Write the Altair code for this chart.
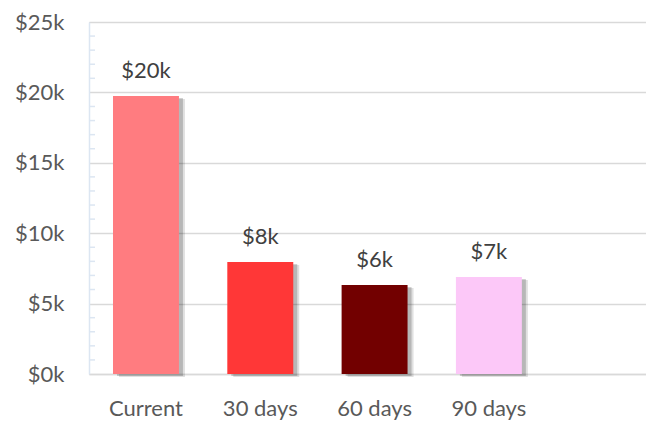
import altair as alt
import pandas as pd

categories = ["Current", "30 days", "60 days", "90 days"]
values = [19740, 7950, 6320, 6890]
value_labels = ["$20k", "$8k", "$6k", "$7k"]
colors = ["#FF7C80", "#FF3737", "#720000", "#FCC8F8"]
y_ticks = [0, 5000, 10000, 15000, 20000, 25000]
minor_ticks = [v for v in range(1000, 25000, 1000) if v % 5000 != 0]

FONT = "Lato"

df = pd.DataFrame({"cat": categories, "value": values, "label": value_labels, "color": colors})
minor_df = pd.DataFrame({"v": minor_ticks})

x_scale = alt.Scale(domain=categories, paddingInner=0.423, paddingOuter=0.648, align=0.162)
y_scale = alt.Scale(domain=[0, 25000], nice=False, zero=True)

x_axis = alt.Axis(title=None, labelAngle=0, ticks=False, domain=True,
                  domainColor="#D9D9D9", domainWidth=1.5, grid=False,
                  labelFont=FONT, labelFontSize=22, labelColor="#595959",
                  labelPadding=24)
y_axis = alt.Axis(title=None, values=y_ticks, ticks=False,
                  labelExpr="'$' + datum.value/1000 + 'k'",
                  labelFont=FONT, labelFontSize=22, labelColor="#595959",
                  labelPadding=25, domain=True, domainColor="#DCE6F2", domainWidth=1.5,
                  grid=True, gridColor="#D9D9D9", gridWidth=1.5)

X = alt.X("cat:N", scale=x_scale, sort=categories, axis=x_axis)
Y = alt.Y("value:Q", scale=y_scale, axis=y_axis)

shadow = alt.Chart(df).mark_bar(color="#000000", opacity=0.18, xOffset=4, yOffset=2).encode(x=X, y=Y)
shadow2 = alt.Chart(df).mark_bar(color="#000000", opacity=0.12, xOffset=6, yOffset=3).encode(x=X, y=Y)

bars = alt.Chart(df).mark_bar().encode(
    x=X,
    y=Y,
    color=alt.Color("color:N", scale=None),
)

text = alt.Chart(df).mark_text(font=FONT, fontSize=22, color="#404040", baseline="middle", dy=-25).encode(
    x=X, y=Y, text="label:N",
)

minor = alt.Chart(minor_df).mark_rule(color="#DCE6F2", strokeWidth=1.5).encode(
    y=alt.Y("v:Q", scale=y_scale, axis=y_axis),
    x=alt.value(0),
    x2=alt.value(6),
)

chart = alt.layer(shadow2, shadow, bars, text, minor).properties(
    width=557, height=352,
    padding={"left": 81, "top": 14, "right": 0, "bottom": 48},
    autosize=alt.AutoSizeParams(type="none"),
).configure_view(stroke=None).configure(background="white")

chart.save("out.html", embed_options={"renderer": "svg", "actions": False})
